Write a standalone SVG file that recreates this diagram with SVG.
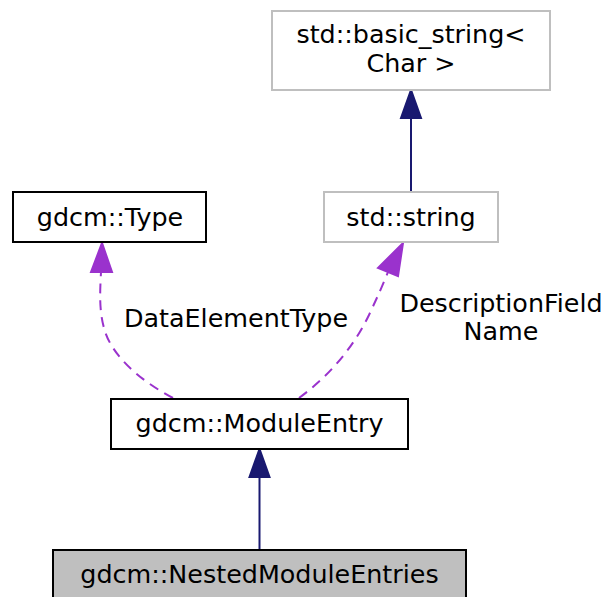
<svg xmlns="http://www.w3.org/2000/svg" width="608" height="597" viewBox="0 0 608 597">
<style>
text{font-family:"DejaVu Sans",sans-serif;font-size:25.4px;fill:#000;text-anchor:middle}
.nb{fill:#fff;stroke:#000;stroke-width:2}
.ng{fill:#fff;stroke:#bfbfbf;stroke-width:2}
.nh{fill:#bfbfbf;stroke:#000;stroke-width:2}
.inh{fill:none;stroke:#191970;stroke-width:2}
.ah{fill:#191970;stroke:#191970;stroke-width:2}
.use{fill:none;stroke:#9a32cd;stroke-width:2;stroke-dasharray:10,7}
.au{fill:#9a32cd;stroke:#9a32cd;stroke-width:2}
</style>
<rect width="608" height="597" fill="#fff"/>
<g id="connectors">
<path class="inh" d="M411,192 L411,118"/>
<polygon class="ah" points="401,118 411,90 421,118"/>
<path class="inh" d="M259.5,550 L259.5,477"/>
<polygon class="ah" points="249.5,477 259.5,449 269.5,477"/>
<path class="use" d="M173,398 C139,380 111,355 104,328 C99,310 100,292 101,272"/>
<polygon class="au" points="91,272 102,243 112,272"/>
<path class="use" d="M299,398 C329,376 353,348 369,315 C376,300 382,287 388,272"/>
<polygon class="au" points="378,268 403,243 398,276"/>
<text x="236" y="327">DataElementType</text>
<text x="501" y="312">DescriptionField</text>
<text x="501" y="340">Name</text>
</g>
<g id="node-basic_string">
<rect class="ng" x="272" y="11" width="278" height="79"/>
<text x="411" y="43">std::basic_string&lt;</text>
<text x="411" y="72">Char &gt;</text>
</g>
<g id="node-string">
<rect class="ng" x="324" y="192" width="174" height="50"/>
<text x="411" y="226">std::string</text>
</g>
<g id="node-Type">
<rect class="nb" x="13" y="192" width="193" height="50"/>
<text x="110" y="226">gdcm::Type</text>
</g>
<g id="node-ModuleEntry">
<rect class="nb" x="111" y="399" width="297" height="50"/>
<text x="259.5" y="432">gdcm::ModuleEntry</text>
</g>
<g id="node-NestedModuleEntries">
<rect class="nh" x="53" y="550" width="413" height="50"/>
<text x="259.5" y="583">gdcm::NestedModuleEntries</text>
</g>
</svg>
